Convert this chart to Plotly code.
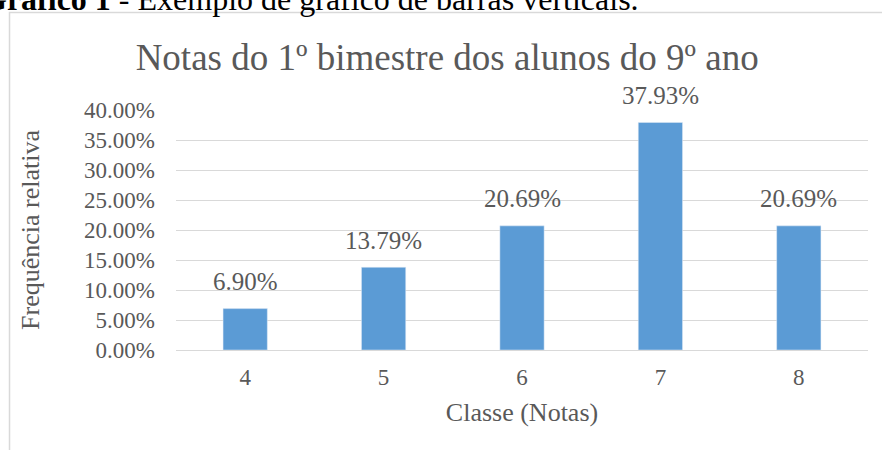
import plotly.graph_objects as go

classes = ['4', '5', '6', '7', '8']
freq = [6.90, 13.79, 20.69, 37.93, 20.69]
y_ticks = [0, 5, 10, 15, 20, 25, 30, 35, 40]

serif = 'Liberation Serif'
gray = '#595959'

fig = go.Figure(go.Bar(
    x=classes,
    y=freq,
    width=0.32,
    marker_color='#5B9BD5',
    hovertemplate='%{x}: %{y:.2f}%<extra></extra>'
))

# rótulos de dados acima das barras (posição = índice da categoria)
for i, v in enumerate(freq):
    fig.add_annotation(
        x=i, y=v, text=f'{v:.2f}%', showarrow=False,
        yanchor='middle', yshift=27,
        font=dict(family=serif, size=25, color=gray)
    )

fig.add_annotation(
    xref='paper', yref='paper', x=-0.2836, y=1.4625,
    xanchor='left', yanchor='middle', showarrow=False,
    text='<b>Gráfico 1</b> - Exemplo de gráfico de barras verticais.',
    font=dict(family=serif, size=32, color='black')
)

fig.update_layout(
    width=882, height=450,
    margin=dict(l=176, r=14, t=110, b=100),
    paper_bgcolor='white', plot_bgcolor='white',
    font=dict(family=serif, color=gray),
    showlegend=False,
    title=dict(
        text='Notas do 1º bimestre dos alunos do 9º ano',
        x=0.507, xanchor='center', y=0.873, yanchor='middle',
        font=dict(family=serif, size=37, color=gray)
    ),
    xaxis=dict(
        type='category', range=[-0.5, len(classes) - 0.5],
        title=dict(text='Classe (Notas)', font=dict(family=serif, size=26, color=gray), standoff=14),
        tickfont=dict(family=serif, size=23, color=gray),
        ticklabelstandoff=6,
        showline=True, linecolor='#D9D9D9', linewidth=1,
        ticks='', automargin=False
    ),
    yaxis=dict(
        title=dict(text='Frequência relativa', font=dict(family=serif, size=26, color=gray), standoff=36),
        range=[0, 40], tickvals=y_ticks,
        ticktext=[f'{t:.2f}%' for t in y_ticks],
        tickfont=dict(family=serif, size=23, color=gray),
        ticklabelstandoff=20,
        gridcolor='#D9D9D9', gridwidth=1,
        zeroline=False, ticks='', automargin=False
    ),
    shapes=[dict(
        type='rect', xref='paper', yref='paper',
        x0=-0.2406, x1=1.1, y0=-0.5, y1=1.406,
        line=dict(color='#D9D9D9', width=1.5)
    )]
)

fig.write_html('out.html', config={'displayModeBar': False},
               post_script="document.body.style.margin='0';")
